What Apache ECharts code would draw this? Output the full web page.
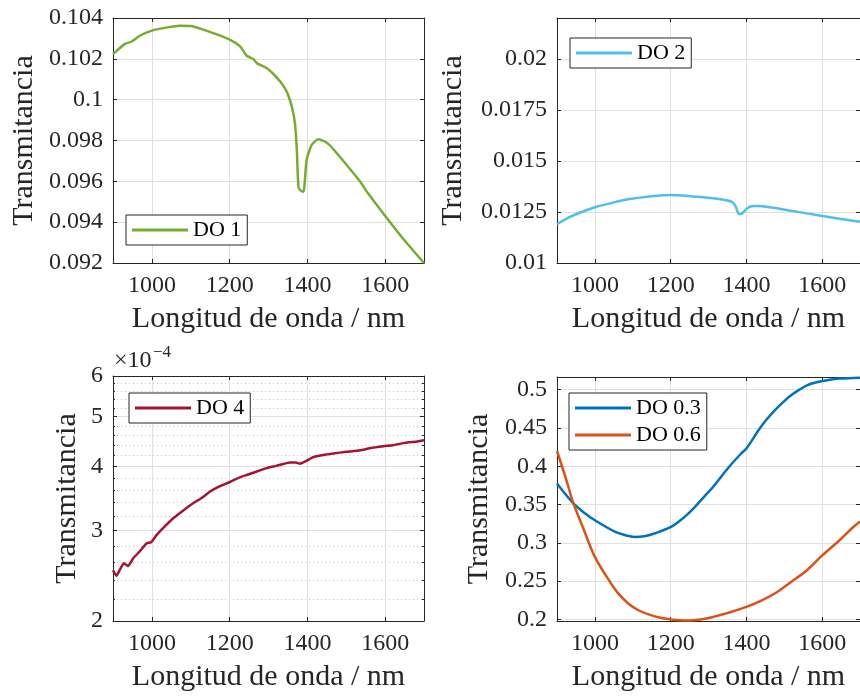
<!DOCTYPE html>
<html><head><meta charset="utf-8">
<script src="https://cdn.jsdelivr.net/npm/echarts@6/dist/echarts.min.js"></script>
<style>html,body{margin:0;padding:0;background:#fff}#c{width:860px;height:697px}</style>
</head><body><div id="c"></div>
<script>
// ---- data ----
const xTicks = [1000, 1200, 1400, 1600];

const wl1 = [900, 930, 948, 969, 1000, 1040, 1072, 1100, 1158, 1200, 1227, 1244, 1261, 1270, 1295, 1312, 1330, 1342, 1350, 1360, 1368, 1373, 1377, 1383, 1390, 1398, 1411, 1428, 1450, 1467, 1536, 1553, 1639, 1700];
const do1 = [0.10223, 0.10272, 0.10285, 0.10313, 0.10338, 0.10354, 0.10362, 0.10361, 0.10326, 0.10294, 0.10261, 0.10215, 0.10199, 0.10179, 0.10155, 0.10127, 0.10089, 0.10056, 0.10025, 0.09966, 0.09885, 0.0975, 0.09573, 0.09554, 0.09549, 0.09704, 0.09778, 0.09806, 0.09789, 0.09757, 0.09598, 0.09549, 0.09336, 0.0920];
const yTicks1 = [0.092, 0.094, 0.096, 0.098, 0.1, 0.102, 0.104];

const wl2 = [900, 934, 1000, 1050, 1088, 1150, 1200, 1230, 1260, 1312, 1350, 1363, 1372, 1380, 1389, 1402, 1419, 1432, 1518, 1601, 1681, 1700];
const do2 = [0.01190, 0.01226, 0.01273, 0.01297, 0.01312, 0.01327, 0.01333, 0.01331, 0.01326, 0.01317, 0.01306, 0.01298, 0.01276, 0.01240, 0.01243, 0.01268, 0.01279, 0.01279, 0.01256, 0.01230, 0.01207, 0.01202];
const yTicks2 = [0.01, 0.0125, 0.015, 0.0175, 0.02];

const wl4 = [900, 909, 918, 928, 939, 952, 970, 986, 999, 1012, 1030, 1055, 1080, 1106, 1130, 1149, 1175, 1201, 1220, 1244, 1270, 1295, 1320, 1355, 1370, 1381, 1395, 1415, 1440, 1467, 1500, 1536, 1560, 1596, 1620, 1639, 1660, 1680, 1700];
const do4 = [2.51e-4, 2.45e-4, 2.52e-4, 2.59e-4, 2.56e-4, 2.65e-4, 2.74e-4, 2.83e-4, 2.85e-4, 2.94e-4, 3.04e-4, 3.17e-4, 3.28e-4, 3.39e-4, 3.48e-4, 3.57e-4, 3.66e-4, 3.73e-4, 3.79e-4, 3.85e-4, 3.91e-4, 3.97e-4, 4.01e-4, 4.07e-4, 4.07e-4, 4.05e-4, 4.09e-4, 4.17e-4, 4.21e-4, 4.24e-4, 4.27e-4, 4.30e-4, 4.34e-4, 4.38e-4, 4.40e-4, 4.43e-4, 4.46e-4, 4.47e-4, 4.50e-4];
const yTicks3 = [2e-4, 3e-4, 4e-4, 5e-4, 6e-4];
const yMinor3 = [2.2e-4, 2.4e-4, 2.6e-4, 2.8e-4, 3.2e-4, 3.4e-4, 3.6e-4, 3.8e-4, 4.2e-4, 4.4e-4, 4.6e-4, 4.8e-4, 5.2e-4, 5.4e-4, 5.6e-4, 5.8e-4];

const wl03 = [900, 942, 970, 1000, 1054, 1080, 1105, 1130, 1157, 1201, 1230, 1260, 1290, 1312, 1354, 1385, 1400, 1432, 1450, 1475, 1500, 1518, 1540, 1560, 1580, 1601, 1620, 1646, 1681, 1700];
const do03 = [0.3774, 0.3521, 0.340, 0.3295, 0.3143, 0.310, 0.3077, 0.3085, 0.3122, 0.3208, 0.331, 0.3448, 0.361, 0.373, 0.399, 0.416, 0.4231, 0.4469, 0.459, 0.473, 0.485, 0.4926, 0.500, 0.5056, 0.509, 0.5112, 0.513, 0.5144, 0.5152, 0.5155];
const wl06 = [900, 925, 942, 968, 1000, 1037, 1060, 1088, 1115, 1140, 1170, 1201, 1243, 1294, 1346, 1400, 1432, 1475, 1518, 1560, 1601, 1646, 1681, 1700];
const do06 = [0.4199, 0.3817, 0.3534, 0.3208, 0.2817, 0.2513, 0.235, 0.2209, 0.212, 0.2069, 0.2025, 0.200, 0.1985, 0.2013, 0.2078, 0.2164, 0.223, 0.2339, 0.249, 0.2643, 0.2839, 0.3034, 0.320, 0.328];
const yTicks4 = [0.2, 0.25, 0.3, 0.35, 0.4, 0.45, 0.5];

const xName = 'Longitud de onda / nm';
const yName = 'Transmitancia';

// ---- styling ----
const FONT = 'Liberation Serif';
const AX = '#262626';
const GRIDC = '#dfdfdf';
const TICKFS = 24, NAMEFS = 30, LEGFS = 22;

const grids = [
  {left: 113, top: 18, width: 311, height: 245},
  {left: 557, top: 18, width: 311, height: 245},
  {left: 113, top: 376, width: 311, height: 245},
  {left: 557, top: 377, width: 311, height: 244}
];

const fmt = v => String(+(+v).toPrecision(6));
const xAxes = [], yAxes = [];
function addX(g, pos) {
  const main = pos === 'bottom';
  xAxes.push({
    gridIndex: g, type: 'value', min: 900, max: 1700, position: pos,
    axisLine: {show: true, onZero: false, lineStyle: {color: AX, width: 1}},
    axisTick: {show: true, inside: true, length: 4, customValues: xTicks, lineStyle: {color: AX}},
    axisLabel: {show: main, customValues: xTicks, formatter: fmt, fontFamily: FONT, fontSize: TICKFS, color: AX, margin: 11},
    splitLine: {show: main, lineStyle: {color: GRIDC, width: 1}},
    name: main ? xName : '', nameLocation: 'middle', nameGap: 41,
    nameTextStyle: {fontFamily: FONT, fontSize: NAMEFS, color: AX}
  });
  return xAxes.length - 1;
}
function addY(g, pos, o) {
  const main = pos === 'left';
  const ax = {
    gridIndex: g, type: o.type || 'value', min: o.min, max: o.max, position: pos,
    axisLine: {show: true, onZero: false, lineStyle: {color: AX, width: 1}},
    axisTick: {show: true, inside: true, length: 4, customValues: o.ticks, lineStyle: {color: AX}},
    axisLabel: {show: main, customValues: o.ticks, formatter: o.fmt || fmt, fontFamily: FONT, fontSize: TICKFS, color: AX, margin: 10},
    splitLine: {show: main, lineStyle: {color: GRIDC, width: 1}},
    name: main ? yName : '', nameLocation: 'middle', nameGap: o.gap,
    nameTextStyle: {fontFamily: FONT, fontSize: NAMEFS, color: AX}
  };
  if (o.type === 'log') ax.logBase = 10;
  yAxes.push(ax);
  return yAxes.length - 1;
}

const series = [];
const legends = [];
function line(name, xs, ys, color, xi, yi, smooth) {
  series.push({
    name, type: 'line', xAxisIndex: xi, yAxisIndex: yi, symbol: 'none', smooth: smooth || false,
    lineStyle: {color, width: 2.5}, itemStyle: {color},
    data: xs.map((x, i) => [x, ys[i]]), animation: false, clip: true
  });
}
function legend(names, left, top) {
  legends.push({
    data: names, left, top, orient: 'vertical', icon: 'rect', itemWidth: 56, itemHeight: 3,
    itemGap: 5, padding: [4, 6, 4, 6], borderColor: AX, borderWidth: 1, backgroundColor: '#fff',
    borderRadius: 0, selectedMode: false,
    textStyle: {fontFamily: FONT, fontSize: LEGFS, color: '#000', lineHeight: 22}
  });
}

// subplot 1
let xb = addX(0, 'bottom'); addX(0, 'top');
let yl = addY(0, 'left', {min: 0.092, max: 0.104, ticks: yTicks1, gap: 74});
addY(0, 'right', {min: 0.092, max: 0.104, ticks: yTicks1});
line('DO 1', wl1, do1, '#77AC30', xb, yl, 0.2);
legend(['DO 1'], 126, 215);

// subplot 2
xb = addX(1, 'bottom'); addX(1, 'top');
yl = addY(1, 'left', {min: 0.01, max: 0.022, ticks: yTicks2, gap: 89});
addY(1, 'right', {min: 0.01, max: 0.022, ticks: yTicks2});
line('DO 2', wl2, do2, '#4DBEEE', xb, yl, 0.2);
legend(['DO 2'], 570, 38);

// subplot 3 (log)
const logFmt = v => String(Math.round(v * 1e4));
xb = addX(2, 'bottom'); addX(2, 'top');
yl = addY(2, 'left', {type: 'log', min: 2e-4, max: 6e-4, ticks: yTicks3, gap: 31, fmt: logFmt});
addY(2, 'right', {type: 'log', min: 2e-4, max: 6e-4, ticks: yTicks3});
// minor grid
yAxes.push({
  gridIndex: 2, type: 'log', logBase: 10, min: 2e-4, max: 6e-4, position: 'left',
  axisLine: {show: false}, axisLabel: {show: false},
  axisTick: {show: true, inside: true, length: 2, customValues: yMinor3, lineStyle: {color: AX}},
  splitLine: {show: true, lineStyle: {color: '#c4c4c4', type: [1, 3], width: 1}}
});
yAxes.push({
  gridIndex: 2, type: 'log', logBase: 10, min: 2e-4, max: 6e-4, position: 'right',
  axisLine: {show: false}, axisLabel: {show: false},
  axisTick: {show: true, inside: true, length: 2, customValues: yMinor3, lineStyle: {color: AX}},
  splitLine: {show: false}
});
line('DO 4', wl4, do4, '#A2142F', xb, yl, 0.15);
legend(['DO 4'], 129, 393);

// subplot 4
xb = addX(3, 'bottom'); addX(3, 'top');
yl = addY(3, 'left', {min: 0.198, max: 0.5165, ticks: yTicks4, gap: 63});
addY(3, 'right', {min: 0.198, max: 0.5165, ticks: yTicks4});
line('DO 0.3', wl03, do03, '#0072BD', xb, yl, 0.35);
line('DO 0.6', wl06, do06, '#D95319', xb, yl, 0.35);
legend(['DO 0.3', 'DO 0.6'], 569, 393);

const chart = echarts.init(document.getElementById('c'), null, {renderer: 'canvas'});
chart.setOption({
  animation: false,
  backgroundColor: '#fff',
  grid: grids,
  xAxis: xAxes,
  yAxis: yAxes,
  series,
  legend: legends,
  graphic: [
    {type: 'text', left: 114, top: 349, style: {text: '\u00d710', font: '24px "Liberation Serif"', fill: AX}},
    {type: 'text', left: 153, top: 344, style: {text: '\u22124', font: '17px "Liberation Serif"', fill: AX}}
  ]
});
</script></body></html>
